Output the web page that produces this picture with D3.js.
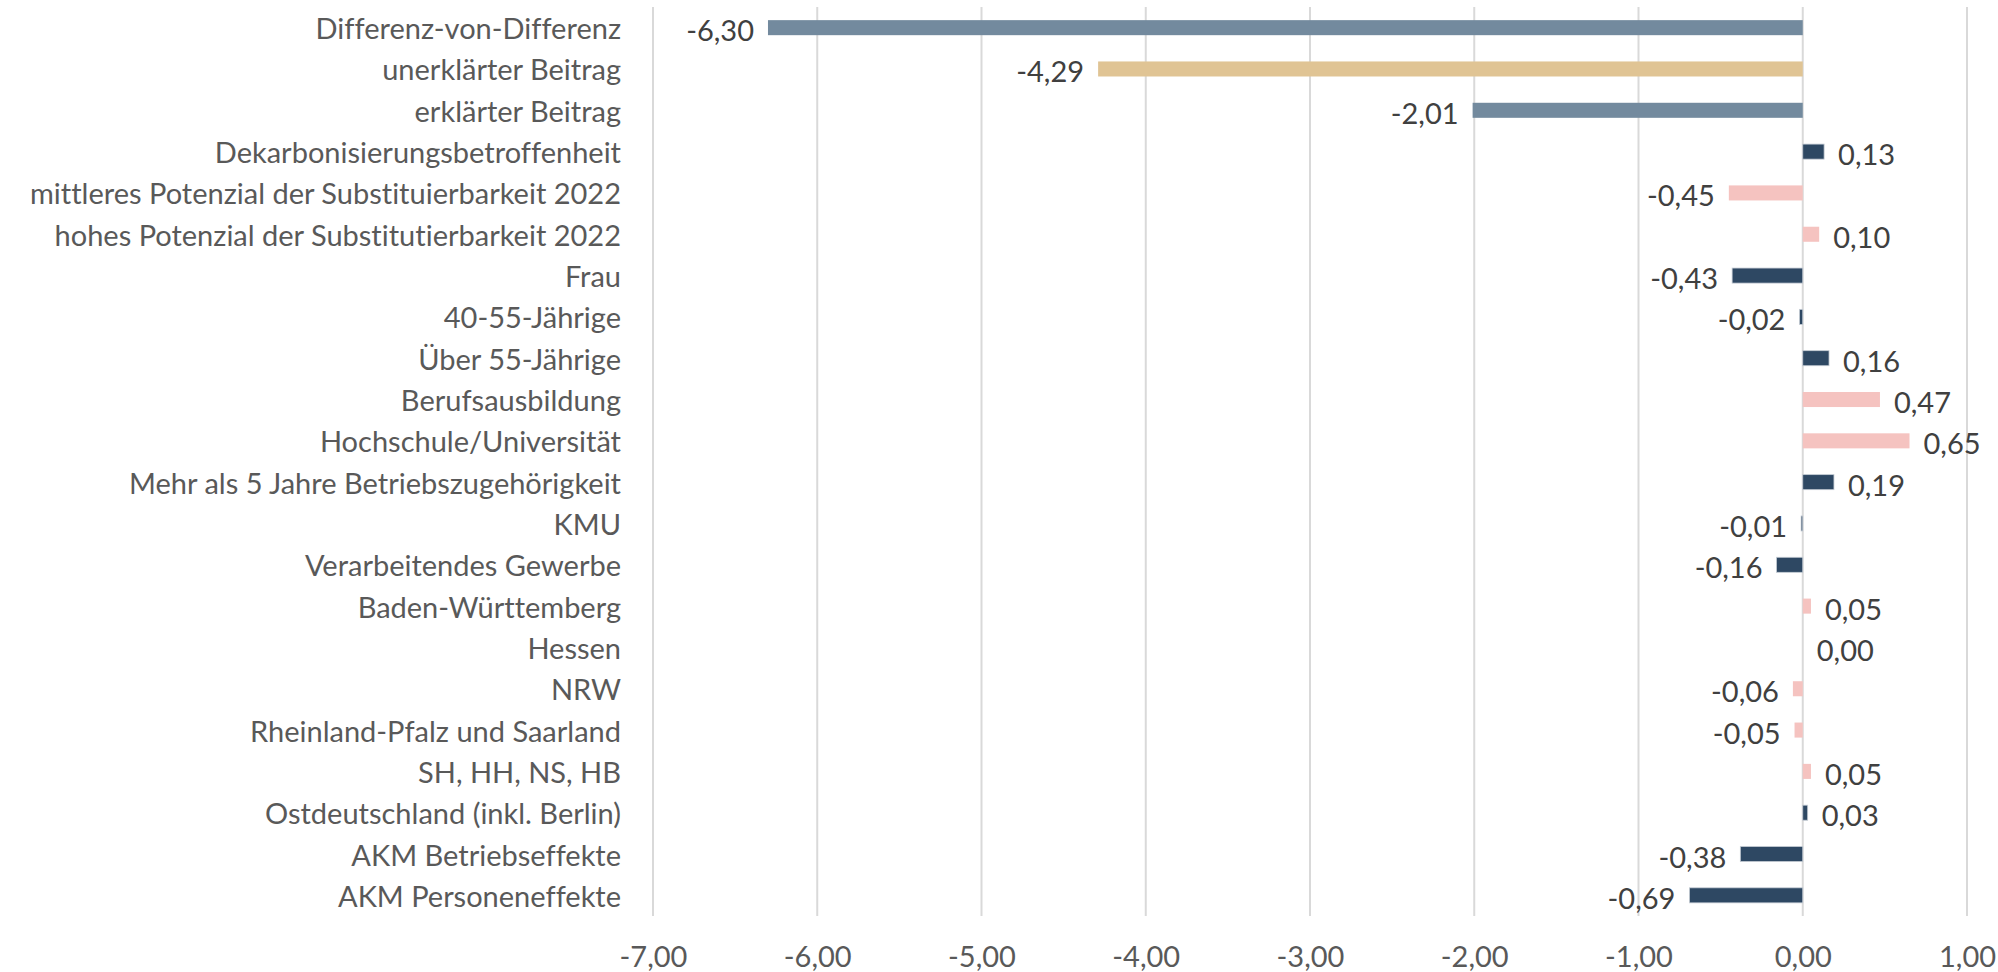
<!DOCTYPE html>
<html>
<head>
<meta charset="utf-8">
<script src="https://cdn.jsdelivr.net/npm/d3@7"></script>
<style>
  body { margin: 0; background: #fff; }
  text { font-family: Lato, "Open Sans", sans-serif; font-variant-ligatures: none; }
</style>
</head>
<body>
<script>
// categories, top to bottom
let categories = [
  "Differenz-von-Differenz",
  "unerklärter Beitrag",
  "erklärter Beitrag",
  "Dekarbonisierungsbetroffenheit",
  "mittleres Potenzial der Substituierbarkeit 2022",
  "hohes Potenzial der Substitutierbarkeit 2022",
  "Frau",
  "40-55-Jährige",
  "Über 55-Jährige",
  "Berufsausbildung",
  "Hochschule/Universität",
  "Mehr als 5 Jahre Betriebszugehörigkeit",
  "KMU",
  "Verarbeitendes Gewerbe",
  "Baden-Württemberg",
  "Hessen",
  "NRW",
  "Rheinland-Pfalz und Saarland",
  "SH, HH, NS, HB",
  "Ostdeutschland (inkl. Berlin)",
  "AKM Betriebseffekte",
  "AKM Personeneffekte"
];
let values = [-6.30, -4.29, -2.01, 0.13, -0.45, 0.10, -0.43, -0.02, 0.16, 0.47, 0.65,
  0.19, -0.01, -0.16, 0.05, 0.00, -0.06, -0.05, 0.05, 0.03, -0.38, -0.69];
// colour group of each bar
let groups = ["total", "unexplained", "total", "navy", "pink", "pink", "navy", "navy", "navy",
  "pink", "pink", "navy", "navy", "navy", "pink", "pink", "pink", "pink", "pink", "navy",
  "navy", "navy"];
let xTicks = [-7, -6, -5, -4, -3, -2, -1, 0, 1];

let width = 1998, height = 972;
let plot = { left: 653, right: 1967, top: 7, bottom: 916 };

let data = categories.map((c, i) => ({ name: c, value: values[i], group: groups[i] }));

// german number format with plain hyphen as minus
let fmt = v => d3.format(".2f")(v).replace(".", ",").replace("\u2212", "-");

let svg = d3.select("body").append("svg")
  .attr("width", width)
  .attr("height", height);

let colorScale = d3.scaleOrdinal()
  .domain(["total", "unexplained", "navy", "pink"])
  .range(["#738a9e", "#e0c494", "#2e4863", "#f5c3c0"]);

let xScale = d3.scaleLinear()
  .domain([-7, 1])
  .range([plot.left, plot.right]);

let yScale = d3.scaleBand()
  .domain(categories)
  .range([plot.top, plot.bottom])
  .paddingInner(0.636)
  .paddingOuter(0.318);

// gridlines
svg.append("g")
  .selectAll("line")
  .data(xTicks)
  .join("line")
  .attr("x1", d => xScale(d))
  .attr("x2", d => xScale(d))
  .attr("y1", plot.top)
  .attr("y2", plot.bottom)
  .attr("stroke", "#d9d9d9")
  .attr("stroke-width", 2);

// bars
svg.append("g")
  .selectAll("rect")
  .data(data)
  .join("rect")
  .attr("x", d => xScale(Math.min(0, d.value)))
  .attr("width", d => Math.abs(xScale(d.value) - xScale(0)))
  .attr("y", d => yScale(d.name))
  .attr("height", yScale.bandwidth())
  .attr("fill", d => colorScale(d.group))
  .attr("stroke", d => d.group == "navy" ? "#c5ccd4" : "none")
  .attr("stroke-width", 0.8);

// value labels
svg.append("g")
  .selectAll("text")
  .data(data)
  .join("text")
  .attr("x", d => d.value < 0 ? xScale(d.value) - 14 : xScale(d.value) + 14)
  .attr("y", d => yScale(d.name) + yScale.bandwidth() / 2 + 2)
  .attr("text-anchor", d => d.value < 0 ? "end" : "start")
  .attr("dominant-baseline", "central")
  .attr("font-size", 29)
  .attr("fill", "#404040")
  .text(d => fmt(d.value));

// category labels
svg.append("g")
  .selectAll("text")
  .data(categories)
  .join("text")
  .attr("x", 621)
  .attr("y", d => yScale(d) + yScale.bandwidth() / 2)
  .attr("text-anchor", "end")
  .attr("dominant-baseline", "central")
  .attr("font-size", 29)
  .attr("fill", "#595959")
  .text(d => d);

// x axis
let xAxis = d3.axisBottom(xScale)
  .tickValues(xTicks)
  .tickSize(0)
  .tickPadding(0)
  .tickFormat(fmt);
let xAxisG = svg.append("g")
  .attr("transform", `translate(0, ${plot.bottom})`)
  .call(xAxis);
xAxisG.select(".domain").remove();
xAxisG.selectAll("text")
  .attr("y", 39)
  .attr("dy", null)
  .attr("dominant-baseline", "central")
  .attr("font-size", 29)
  .attr("font-family", "Lato, sans-serif")
  .attr("fill", "#595959");
</script>
</body>
</html>
